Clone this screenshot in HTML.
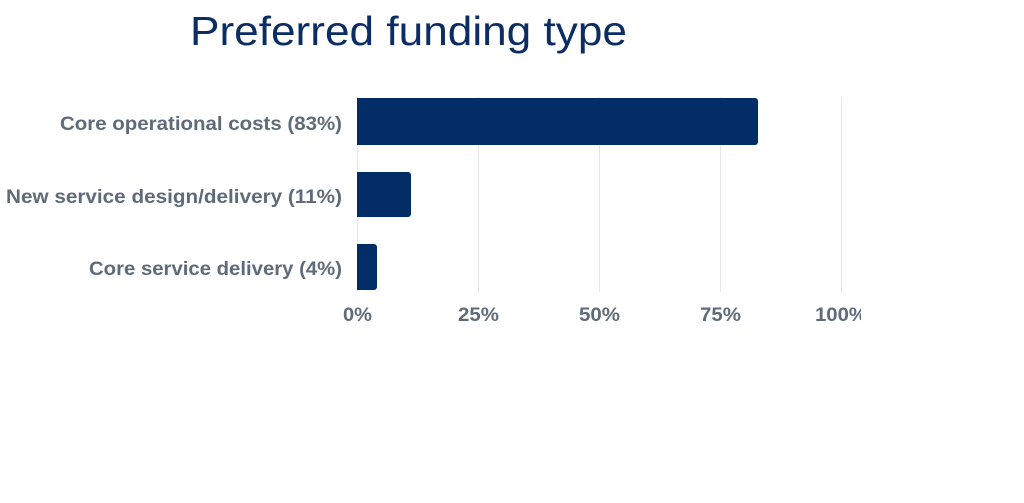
<!DOCTYPE html>
<html><head><meta charset="utf-8"><style>
html,body{margin:0;padding:0;background:#fff;}
body{width:1024px;height:503px;overflow:hidden;position:relative;font-family:"Liberation Sans",sans-serif;}
</style></head><body>
<svg width="1024" height="503" xmlns="http://www.w3.org/2000/svg" style="position:absolute;left:0;top:0">
<text x="190" y="45" textLength="437" lengthAdjust="spacingAndGlyphs" font-family="Liberation Sans, sans-serif" font-size="41" fill="#0b2d63">Preferred funding type</text>
<g stroke="#e3e5e8" stroke-width="1">
<line x1="357.5" y1="97" x2="357.5" y2="292"/>
<line x1="478.5" y1="97" x2="478.5" y2="292"/>
<line x1="599.5" y1="97" x2="599.5" y2="292"/>
<line x1="720.5" y1="97" x2="720.5" y2="292"/>
<line x1="841.5" y1="97" x2="841.5" y2="292"/>
</g>
<g fill="#022d66">
<path d="M357 98 H755 a3 3 0 0 1 3 3 V142 a3 3 0 0 1 -3 3 H357Z"/>
<path d="M357 172 H408 a3 3 0 0 1 3 3 V214 a3 3 0 0 1 -3 3 H357Z"/>
<path d="M357 244 H374 a3 3 0 0 1 3 3 V287 a3 3 0 0 1 -3 3 H357Z"/>
</g>
<g font-family="Liberation Sans, sans-serif" font-weight="bold" font-size="19" fill="#5f6b7a" lengthAdjust="spacingAndGlyphs">
<text x="60" y="130" textLength="282" lengthAdjust="spacingAndGlyphs">Core operational costs (83%)</text>
<text x="6" y="203" textLength="336" lengthAdjust="spacingAndGlyphs">New service design/delivery (11%)</text>
<text x="89" y="275" textLength="253" lengthAdjust="spacingAndGlyphs">Core service delivery (4%)</text>
</g>
<g font-family="Liberation Sans, sans-serif" font-weight="bold" font-size="19" fill="#5f6b7a">
<text x="343" y="321" textLength="29" lengthAdjust="spacingAndGlyphs">0%</text>
<text x="458" y="321" textLength="41" lengthAdjust="spacingAndGlyphs">25%</text>
<text x="579" y="321" textLength="41" lengthAdjust="spacingAndGlyphs">50%</text>
<text x="700" y="321" textLength="41" lengthAdjust="spacingAndGlyphs">75%</text>
<text x="815" y="321" textLength="52" lengthAdjust="spacingAndGlyphs">100%</text>
</g>
<rect x="861" y="300" width="30" height="30" fill="#fff"/>
</svg>
</body></html>
